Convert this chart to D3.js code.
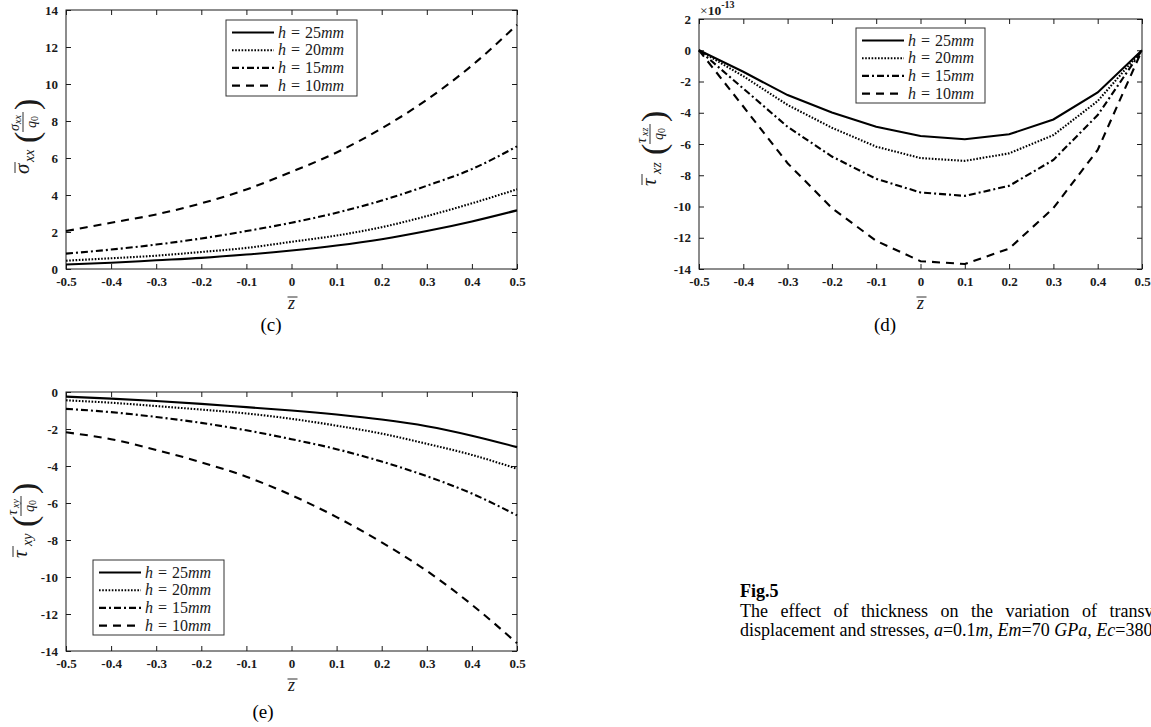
<!DOCTYPE html>
<html><head><meta charset="utf-8">
<script src="https://cdn.jsdelivr.net/npm/d3@7"></script>
<style>body{margin:0;background:#fff}svg{display:block}</style>
</head><body>
<svg id="fig" width="1151" height="727"></svg>
<script>
// ---------- data ----------
const zBar = [-0.5,-0.4,-0.3,-0.2,-0.1,0,0.1,0.2,0.3,0.4,0.5];
const xTickLabels = ["-0.5","-0.4","-0.3","-0.2","-0.1","0","0.1","0.2","0.3","0.4","0.5"];
const thicknessMM = ["25","20","15","10"];

// (c) sigma_xx / q0
const sigmaXX_h25 = [0.24,0.34,0.47,0.60,0.78,1.00,1.27,1.61,2.05,2.57,3.17];
const sigmaXX_h20 = [0.45,0.58,0.72,0.92,1.14,1.47,1.81,2.26,2.86,3.55,4.31];
const sigmaXX_h15 = [0.83,1.05,1.32,1.65,2.05,2.50,3.04,3.70,4.50,5.40,6.63];
const sigmaXX_h10 = [2.05,2.50,2.95,3.55,4.30,5.25,6.30,7.60,9.15,11.0,13.2];
const yTicksC = [0,2,4,6,8,10,12,14];

// (d) tau_xz / q0  (x 1e-13)
const tauXZ_h25 = [0,-1.38,-2.87,-3.98,-4.89,-5.49,-5.70,-5.38,-4.43,-2.70,0];
const tauXZ_h20 = [0,-1.66,-3.50,-4.96,-6.17,-6.90,-7.08,-6.60,-5.43,-3.25,0];
const tauXZ_h15 = [0,-2.45,-4.90,-6.80,-8.23,-9.10,-9.32,-8.68,-7.02,-4.15,0];
const tauXZ_h10 = [0,-3.60,-7.23,-10.1,-12.2,-13.5,-13.68,-12.7,-10.1,-6.38,0];
const yTicksD = [-14,-12,-10,-8,-6,-4,-2,0,2];

// (e) tau_xy / q0
const tauXY_h25 = [-0.25,-0.36,-0.49,-0.64,-0.82,-1.00,-1.22,-1.49,-1.85,-2.36,-2.98];
const tauXY_h20 = [-0.45,-0.58,-0.76,-0.95,-1.16,-1.45,-1.82,-2.25,-2.80,-3.40,-4.15];
const tauXY_h15 = [-0.91,-1.09,-1.35,-1.67,-2.07,-2.55,-3.09,-3.76,-4.55,-5.49,-6.67];
const tauXY_h10 = [-2.18,-2.55,-3.13,-3.80,-4.58,-5.58,-6.76,-8.13,-9.67,-11.5,-13.58];
const yTicksE = [-14,-12,-10,-8,-6,-4,-2,0];

// ---------- styles ----------
const INK = "#1a1a1a";
const dashes = [null, "1.6,1.6", "7,3,2,3", "8,6"];
const SERIF = "'Liberation Serif','Times New Roman',serif";

const svg = d3.select("#fig");

function panel(cfg) {
  const g = svg.append("g");
  const x = d3.scaleLinear().domain([-0.5,0.5]).range([cfg.x0, cfg.x1]);
  const y = d3.scaleLinear().domain(cfg.ydom).range([cfg.y1, cfg.y0]);
  const clipId = "clip" + cfg.id;
  svg.append("clipPath").attr("id", clipId).append("rect")
    .attr("x", cfg.x0-2).attr("y", cfg.y0-2)
    .attr("width", cfg.x1-cfg.x0+4).attr("height", cfg.y1-cfg.y0+4);

  const fmtX = (d,i) => xTickLabels[i];
  const axB = d3.axisBottom(x).tickValues(zBar).tickFormat(fmtX).tickSizeInner(-5).tickSizeOuter(0).tickPadding(8);
  const axT = d3.axisTop(x).tickValues(zBar).tickFormat("").tickSizeInner(-5).tickSizeOuter(0);
  const axL = d3.axisLeft(y).tickValues(cfg.yticks).tickFormat(d => String(d)).tickSizeInner(-5).tickSizeOuter(0).tickPadding(8);
  const axR = d3.axisRight(y).tickValues(cfg.yticks).tickFormat("").tickSizeInner(-5).tickSizeOuter(0);
  const put = (ax, tx, ty) => {
    const a = g.append("g").attr("transform", `translate(${tx},${ty})`).call(ax);
    a.select(".domain").remove();
    a.selectAll("line").attr("stroke", INK).attr("stroke-width", 1);
    a.selectAll("text").attr("font-family", SERIF).attr("font-weight", "bold")
      .attr("font-size", 13).attr("fill", INK);
    return a;
  };
  put(axB, 0, cfg.y1);
  put(axT, 0, cfg.y0);
  put(axL, cfg.x0, 0);
  put(axR, cfg.x1, 0);
  g.append("rect").attr("x", cfg.x0).attr("y", cfg.y0)
    .attr("width", cfg.x1-cfg.x0).attr("height", cfg.y1-cfg.y0)
    .attr("fill", "none").attr("stroke", INK).attr("stroke-width", 1);

  const line = d3.line().x((d,i)=>x(zBar[i])).y(d=>y(d)).curve(cfg.curve);
  cfg.series.forEach((s, k) => {
    g.append("path").attr("d", line(s)).attr("fill","none")
      .attr("stroke", "#000").attr("stroke-width", 2.1)
      .attr("stroke-dasharray", dashes[k])
      .attr("clip-path", `url(#${clipId})`);
  });

  // legend
  const L = cfg.legend;
  const lg = g.append("g");
  lg.append("rect").attr("x", L.x).attr("y", L.y).attr("width", L.w).attr("height", L.h)
    .attr("fill", "#fff").attr("stroke", "#333").attr("stroke-width", 1);
  thicknessMM.forEach((hmm, k) => {
    const yy = L.y + 12.5 + k*17.7;
    lg.append("line").attr("x1", L.x+6).attr("x2", L.x+48).attr("y1", yy).attr("y2", yy)
      .attr("stroke", "#000").attr("stroke-width", 2.1).attr("stroke-dasharray", dashes[k]);
    const t = lg.append("text").attr("x", L.x+52).attr("y", yy+5)
      .attr("font-family", SERIF).attr("font-size", 16).attr("fill", INK);
    t.append("tspan").attr("font-style","italic").text("h");
    t.append("tspan").attr("dx", 5).text("=");
    t.append("tspan").attr("dx", 5).text(hmm);
    t.append("tspan").attr("font-style","italic").text("mm");
  });

  // x label: z-bar
  const xl = g.append("g").attr("transform", `translate(${(cfg.x0+cfg.x1)/2},${cfg.y1+40})`);
  xl.append("text").attr("text-anchor","middle").attr("font-family", SERIF)
    .attr("font-style","italic").attr("font-size", 18).attr("fill", INK).text("z");
  xl.append("line").attr("x1",-4).attr("x2",6).attr("y1",-12).attr("y2",-12)
    .attr("stroke", INK).attr("stroke-width", 0.9);

  // y label (rotated math label)
  const yl = g.append("g").attr("transform", `translate(${cfg.ylx},${cfg.yly}) rotate(-90) translate(-38,6)`);
  const T = (x0, y0, s, fs, it) => yl.append("text").attr("x", x0).attr("y", y0)
      .attr("font-family", SERIF).attr("font-size", fs).attr("fill", INK)
      .attr("font-style", it ? "italic" : "normal").text(s);
  T(0, 0, cfg.sym, 21, true);
  yl.append("line").attr("x1", 1).attr("x2", 12).attr("y1", -14).attr("y2", -14).attr("stroke", INK).attr("stroke-width", 0.9);
  T(12, 5, cfg.sub, 14, true);
  T(31, 9, "(", 34, false);
  T(43, -10, cfg.sym, 14, true);
  T(50, -8, cfg.sub, 10, true);
  yl.append("line").attr("x1", 42).attr("x2", 62).attr("y1", -6).attr("y2", -6).attr("stroke", INK).attr("stroke-width", 0.9);
  T(46, 7, "q", 14, true);
  T(53, 9, "0", 10, false);
  T(64, 9, ")", 34, false);

  svg.append("text").attr("x", cfg.tagx).attr("y", cfg.tagy).attr("text-anchor","middle")
    .attr("font-family", SERIF).attr("font-size", 19).attr("fill", "#000").text(cfg.tag);
  return {g, x, y};
}

panel({id:"c", x0:66, x1:517, y0:10, y1:269, ydom:[0,14], yticks:yTicksC,
  series:[sigmaXX_h25, sigmaXX_h20, sigmaXX_h15, sigmaXX_h10], curve:d3.curveMonotoneX,
  legend:{x:226, y:20, w:131, h:76}, sym:"σ", sub:"xx", ylx:23, yly:136, tag:"(c)", tagx:271, tagy:331});

panel({id:"d", x0:699, x1:1142, y0:19, y1:269, ydom:[-14,2], yticks:yTicksD,
  series:[tauXZ_h25, tauXZ_h20, tauXZ_h15, tauXZ_h10], curve:d3.curveLinear,
  legend:{x:856, y:28, w:129, h:75}, sym:"τ", sub:"xz", ylx:650, yly:148, tag:"(d)", tagx:885, tagy:331});
const ex = svg.append("text").attr("x", 700).attr("y", 15).attr("font-family", SERIF)
  .attr("font-weight","bold").attr("font-size", 13.5).attr("fill", INK);
ex.append("tspan").attr("font-weight","normal").text("×");
ex.append("tspan").text("10");
ex.append("tspan").attr("dy", -7).attr("font-size", 10).text("-13");

panel({id:"e", x0:66, x1:517, y0:392, y1:651, ydom:[-14,0], yticks:yTicksE,
  series:[tauXY_h25, tauXY_h20, tauXY_h15, tauXY_h10], curve:d3.curveMonotoneX,
  legend:{x:93, y:560, w:131, h:75}, sym:"τ", sub:"xy", ylx:21, yly:520, tag:"(e)", tagx:263, tagy:718});

// caption (clipped at the right edge, as in the reference)
const cap = svg.append("g").attr("font-family", SERIF).attr("font-size", 18).attr("fill", "#000");
cap.append("text").attr("x", 740).attr("y", 597).attr("font-weight","bold").text("Fig.5");
cap.append("text").attr("x", 740).attr("y", 617).attr("word-spacing", 8)
  .text("The effect of thickness on the variation of transverse");
const l2 = cap.append("text").attr("x", 740).attr("y", 636);
[["displacement and stresses, ",0],["a",1],["=0.1",0],["m",1],[", ",0],["Em",1],["=70 ",0],["GPa, Ec",1],["=380 ",0],["GPa",1]]
  .forEach(([s,it]) => l2.append("tspan").attr("font-style", it?"italic":"normal").text(s));
</script>
</body></html>
